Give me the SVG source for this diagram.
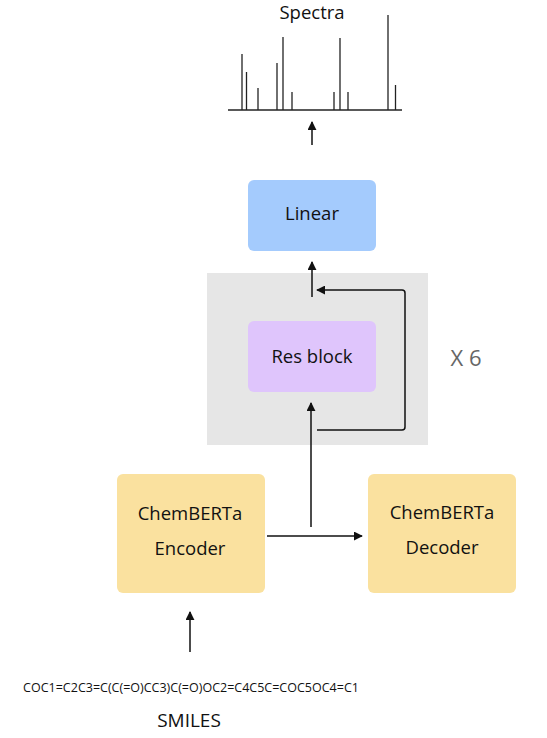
<svg xmlns="http://www.w3.org/2000/svg" width="547" height="738" viewBox="0 0 547 738">
<defs>
<style>
text{font-family:"Open Sans","Noto Sans","Liberation Sans",sans-serif;fill:#111;text-anchor:middle}
.lbl{font-size:18.5px}
.c{stroke:#111;stroke-width:1.5;fill:none}
.pk{stroke:#222;stroke-width:1.3}
</style>
<marker id="ah" viewBox="0 0 10 10" refX="9" refY="5" markerWidth="9" markerHeight="9" markerUnits="userSpaceOnUse" orient="auto">
<path d="M0,0 L10,5 L0,10 z" fill="#111"/>
</marker>
</defs>
<rect width="547" height="738" fill="#fff"/>
<g id="spectra">
<text x="312" y="19" class="lbl">Spectra</text>
<line x1="228" y1="110" x2="402" y2="110" class="pk"/>
<line x1="242" y1="110" x2="242" y2="54" class="pk"/>
<line x1="246.5" y1="110" x2="246.5" y2="72" class="pk"/>
<line x1="258" y1="110" x2="258" y2="88" class="pk"/>
<line x1="277" y1="110" x2="277" y2="63" class="pk"/>
<line x1="283" y1="110" x2="283" y2="37" class="pk"/>
<line x1="292" y1="110" x2="292" y2="92" class="pk"/>
<line x1="334" y1="110" x2="334" y2="92" class="pk"/>
<line x1="340" y1="110" x2="340" y2="38" class="pk"/>
<line x1="348" y1="110" x2="348" y2="92" class="pk"/>
<line x1="388" y1="110" x2="388" y2="15" class="pk"/>
<line x1="395.5" y1="110" x2="395.5" y2="85" class="pk"/>
</g>
<g id="repeat">
<rect x="207" y="273" width="221" height="172" fill="#e6e6e6"/>
<text x="466" y="366" style="font-size:22px;fill:#666">X 6</text>
</g>
<g id="linear">
<rect x="248" y="180" width="128" height="71" rx="6" fill="#a4cbfd"/>
<text x="312" y="220" class="lbl">Linear</text>
</g>
<g id="resblock">
<rect x="248" y="321" width="128" height="71" rx="6" fill="#dfc5fc"/>
<text x="312" y="363" class="lbl">Res block</text>
</g>
<g id="encoder">
<rect x="117" y="474" width="148" height="119" rx="6" fill="#fae19f"/>
<text x="190" y="520" class="lbl">ChemBERTa</text>
<text x="190" y="555" class="lbl">Encoder</text>
</g>
<g id="decoder">
<rect x="368" y="474" width="148" height="119" rx="6" fill="#fae19f"/>
<text x="442" y="519" class="lbl">ChemBERTa</text>
<text x="442" y="554" class="lbl">Decoder</text>
</g>
<g id="smiles">
<text x="191" y="692" style="font-size:12.5px">COC1=C2C3=C(C(=O)CC3)C(=O)OC2=C4C5C=COC5OC4=C1</text>
<text x="189" y="727" style="font-size:19px">SMILES</text>
</g>
<g id="connectors">
<line x1="312" y1="145" x2="312" y2="122" class="c" marker-end="url(#ah)"/>
<line x1="312" y1="297" x2="312" y2="262" class="c" marker-end="url(#ah)"/>
<path d="M317,430 H402 Q405,430 405,427 V293 Q405,290 402,290 H317" class="c" marker-end="url(#ah)"/>
<line x1="311" y1="527" x2="311" y2="403" class="c" marker-end="url(#ah)"/>
<line x1="267" y1="536" x2="362" y2="536" class="c" marker-end="url(#ah)"/>
<line x1="190" y1="652" x2="190" y2="612" class="c" marker-end="url(#ah)"/>
</g>
</svg>
